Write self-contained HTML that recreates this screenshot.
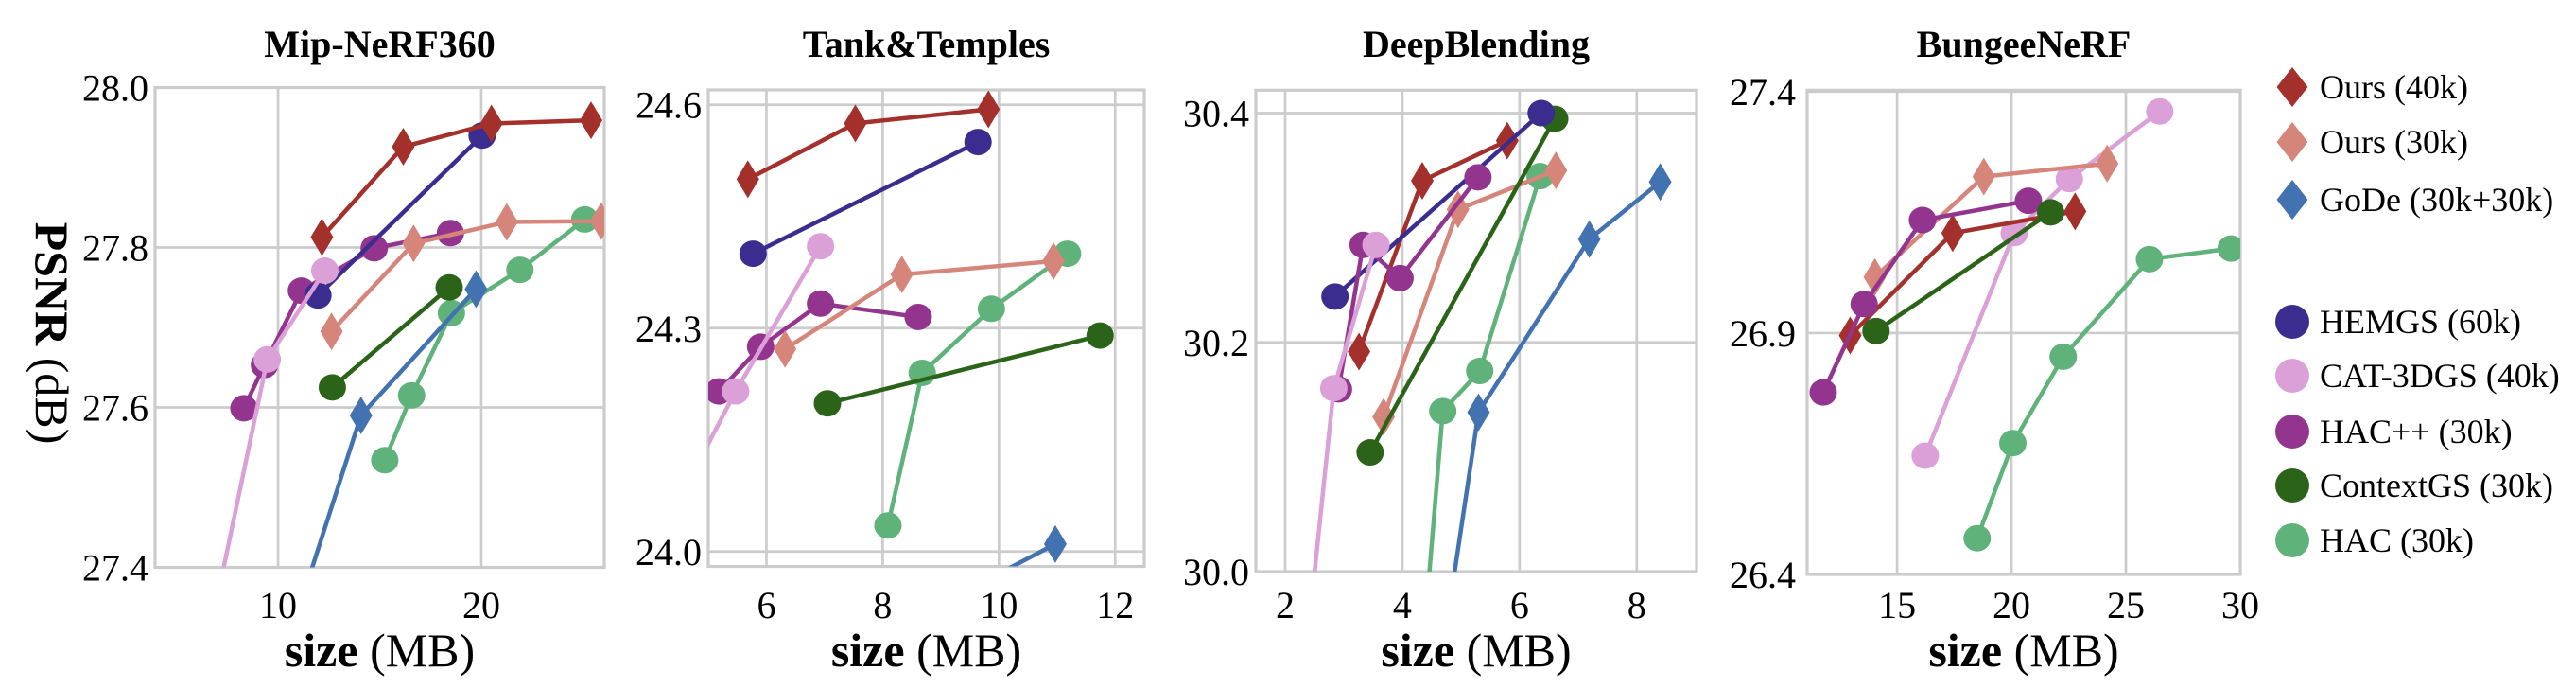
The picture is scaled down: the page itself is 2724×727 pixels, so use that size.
<!DOCTYPE html>
<html><head><meta charset="utf-8"><style>
html,body{margin:0;padding:0;background:#fff;}
svg, svg text{font-family:"Liberation Serif","Times New Roman","DejaVu Serif",serif;}
</style></head><body>
<svg id="chart" width="2724" height="722" viewBox="0 0 2724 722" xmlns="http://www.w3.org/2000/svg" font-family="Liberation Serif, DejaVu Serif, serif">
<text transform="translate(38,352) rotate(90)" text-anchor="middle" font-size="50" font-family="Liberation Serif, DejaVu Serif, serif"><tspan font-weight="bold">PSNR</tspan> (dB)</text>
<g id="panels"></g>
<g id="legend"></g>
</svg>
<script>
// ---- data: Mip-NeRF360 ----
const mipOurs40kX=[12.16,16.16,20.5,25.4], mipOurs40kY=[27.813,27.926,27.955,27.959];
const mipOurs30kX=[12.63,16.67,21.25,25.9], mipOurs30kY=[27.695,27.805,27.832,27.833];
const mipGodeX=[10.8,14.08,19.74], mipGodeY=[27.33,27.59,27.748];
const mipHemgsX=[11.96,20.04], mipHemgsY=[27.74,27.94];
const mipCatX=[6.5,9.47,12.3], mipCatY=[27.3,27.66,27.771];
const mipHacppX=[8.32,9.33,11.15,14.73,18.48], mipHacppY=[27.599,27.653,27.746,27.799,27.818];
const mipCtxX=[12.67,18.42], mipCtxY=[27.625,27.75];
const mipHacX=[15.25,16.57,18.53,21.9,25.09], mipHacY=[27.534,27.615,27.718,27.772,27.835];
// ---- Tank&Temples ----
const tntOurs40kX=[5.68,7.53,9.82], tntOurs40kY=[24.50,24.575,24.594];
const tntOurs30kX=[6.32,8.33,10.94], tntOurs30kY=[24.272,24.372,24.39];
const tntGodeX=[9.5,10.97], tntGodeY=[23.95,24.010];
const tntHemgsX=[5.77,9.64], tntHemgsY=[24.40,24.55];
const tntCatX=[4.7,5.47,6.93], tntCatY=[24.1,24.215,24.41];
const tntHacppX=[5.18,5.9,6.93,8.61], tntHacppY=[24.215,24.275,24.333,24.315];
const tntCtxX=[7.05,11.74], tntCtxY=[24.199,24.29];
const tntHacX=[8.09,8.68,9.87,11.18], tntHacY=[24.035,24.24,24.326,24.40];
// ---- DeepBlending ----
const dbOurs40kX=[3.26,4.34,5.79], dbOurs40kY=[30.192,30.341,30.376];
const dbOurs30kX=[3.68,4.95,6.62], dbOurs30kY=[30.135,30.316,30.350];
const dbGodeX=[4.6,5.3,7.19,8.4], dbGodeY=[29.9,30.139,30.29,30.34];
const dbHemgsX=[2.85,6.37], dbHemgsY=[30.24,30.40];
const dbCatX=[2.3,2.83,3.55], dbCatY=[29.9,30.16,30.285];
const dbHacppX=[2.91,3.33,3.96,5.29], dbHacppY=[30.159,30.285,30.256,30.344];
const dbCtxX=[3.45,6.6], dbCtxY=[30.104,30.395];
const dbHacX=[4.3,4.69,5.32,6.35], dbHacY=[29.9,30.14,30.175,30.345];
// ---- BungeeNeRF ----
const bnOurs40kX=[12.95,17.43,22.78], bnOurs40kY=[26.895,27.107,27.152];
const bnOurs30kX=[14.03,18.79,24.18], bnOurs30kY=[27.016,27.224,27.251];
const bnCatX=[16.23,20.12,22.53,26.48], bnCatY=[26.646,27.107,27.219,27.359];
const bnHacppX=[11.77,13.56,16.11,20.74], bnHacppY=[26.777,26.96,27.134,27.174];
const bnCtxX=[14.08,21.71], bnCtxY=[26.904,27.15];
const bnHacX=[18.5,20.06,22.26,26.03,29.6], bnHacY=[26.475,26.672,26.851,27.053,27.075];
// ---- ticks ----
const mipXTicks=[10,20], mipYTicks=[27.4,27.6,27.8,28.0], mipYLabels=["27.4","27.6","27.8","28.0"];
const tntXTicks=[6,8,10,12], tntYTicks=[24.0,24.3,24.6], tntYLabels=["24.0","24.3","24.6"];
const dbXTicks=[2,4,6,8], dbYTicks=[30.0,30.2,30.4], dbYLabels=["30.0","30.2","30.4"];
const bnXTicks=[15,20,25,30], bnYTicks=[26.4,26.9,27.4], bnYLabels=["26.4","26.9","27.4"];
const legendLabels=["Ours (40k)","Ours (30k)","GoDe (30k+30k)","HEMGS (60k)","CAT-3DGS (40k)","HAC++ (30k)","ContextGS (30k)","HAC (30k)"];

const FONT="Liberation Serif, DejaVu Serif, serif";
const C={o40:"#a3302b",o30:"#d6857a",gode:"#4272b0",hemgs:"#3b2d8f",cat:"#dca0d8",hacpp:"#93348e",ctx:"#2b6319",hac:"#5fb37a"};
const NS="http://www.w3.org/2000/svg";
function mk(tag,attrs,parent){const e=document.createElementNS(NS,tag);for(const k in attrs)e.setAttribute(k,attrs[k]);if(tag==="text")e.setAttribute("font-family",FONT);if(parent)parent.appendChild(e);return e;}
function diamond(cx,cy,hw,hh){return `M${cx},${cy-hh}L${cx+hw},${cy}L${cx},${cy+hh}L${cx-hw},${cy}Z`;}

const panels=[
 {id:"mip",title:"Mip-NeRF360",x0:164,x1:639,y0:92.5,y1:599.5,xl:[3.95,26.05],yl:[27.4,28.0],xt:mipXTicks,yt:mipYTicks,ytl:mipYLabels,lab:157,
  s:[["hac",mipHacX,mipHacY,"c"],["ctx",mipCtxX,mipCtxY,"c"],["hacpp",mipHacppX,mipHacppY,"c"],["hemgs",mipHemgsX,mipHemgsY,"c"],["cat",mipCatX,mipCatY,"c"],["gode",mipGodeX,mipGodeY,"d"],["o30",mipOurs30kX,mipOurs30kY,"d"],["o40",mipOurs40kX,mipOurs40kY,"d"]]},
 {id:"tnt",title:"Tank&Temples",x0:749,x1:1210,y0:95,y1:598.5,xl:[5.0,12.5],yl:[23.98,24.62],xt:tntXTicks,yt:tntYTicks,ytl:tntYLabels,lab:742,
  s:[["hac",tntHacX,tntHacY,"c"],["ctx",tntCtxX,tntCtxY,"c"],["hacpp",tntHacppX,tntHacppY,"c"],["hemgs",tntHemgsX,tntHemgsY,"c"],["cat",tntCatX,tntCatY,"c"],["gode",tntGodeX,tntGodeY,"d"],["o30",tntOurs30kX,tntOurs30kY,"d"],["o40",tntOurs40kX,tntOurs40kY,"d"]]},
 {id:"db",title:"DeepBlending",x0:1328,x1:1794,y0:95.3,y1:604,xl:[1.5,9.02],yl:[30.0,30.42],xt:dbXTicks,yt:dbYTicks,ytl:dbYLabels,lab:1321,
  s:[["hac",dbHacX,dbHacY,"c"],["gode",dbGodeX,dbGodeY,"d"],["o30",dbOurs30kX,dbOurs30kY,"d"],["ctx",dbCtxX,dbCtxY,"c"],["o40",dbOurs40kX,dbOurs40kY,"d"],["hemgs",dbHemgsX,dbHemgsY,"c"],["hacpp",dbHacppX,dbHacppY,"c"],["cat",dbCatX,dbCatY,"c"]]},
 {id:"bn",title:"BungeeNeRF",x0:1911,x1:2369,y0:95.3,y1:607,xl:[11.07,30],yl:[26.4,27.403],xt:bnXTicks,yt:bnYTicks,ytl:bnYLabels,lab:1899,
  s:[["hac",bnHacX,bnHacY,"c"],["cat",bnCatX,bnCatY,"c"],["o30",bnOurs30kX,bnOurs30kY,"d"],["o40",bnOurs40kX,bnOurs40kY,"d"],["hacpp",bnHacppX,bnHacppY,"c"],["ctx",bnCtxX,bnCtxY,"c"]]}
];

const root=document.getElementById("panels");
panels.forEach(p=>{
 const sx=v=>p.x0+(v-p.xl[0])/(p.xl[1]-p.xl[0])*(p.x1-p.x0);
 const sy=v=>p.y1-(v-p.yl[0])/(p.yl[1]-p.yl[0])*(p.y1-p.y0);
 const g=mk("g",{},root);
 
 
 const cp=mk("clipPath",{id:"clip-"+p.id},g);
 mk("rect",{x:p.x0,y:p.y0,width:p.x1-p.x0,height:p.y1-p.y0},cp);
 const t=mk("text",{x:(p.x0+p.x1)/2,y:60,"text-anchor":"middle","font-size":40,"font-weight":"bold"},g);
 t.textContent=p.title;
 
 
 p.xt.forEach(v=>{
  const l=mk("line",{x1:sx(v),x2:sx(v),y1:p.y0,y2:p.y1,stroke:"#cccccc","stroke-width":2.7},g);
  
  
  const tl=mk("text",{x:sx(v),y:653,"text-anchor":"middle","font-size":40},g);
  tl.textContent=String(v);
  
  
 });
 p.yt.forEach((v,i)=>{
  const l=mk("line",{x1:p.x0,x2:p.x1,y1:sy(v),y2:sy(v),stroke:"#cccccc","stroke-width":2.7},g);
  
  
  const tl=mk("text",{x:p.lab,y:sy(v)+14,"text-anchor":"end","font-size":40},g);
  tl.textContent=p.ytl[i];
  
  
 });
 const fr=mk("rect",{x:p.x0,y:p.y0,width:p.x1-p.x0,height:p.y1-p.y0,fill:"none",stroke:"#cccccc","stroke-width":3.2},g);
 
 
 const xl=mk("text",{x:(p.x0+p.x1)/2,y:704,"text-anchor":"middle","font-size":50},g);
 xl.innerHTML='<tspan font-weight="bold">size</tspan> (MB)';
 
 
 const dg=mk("g",{"clip-path":"url(#clip-"+p.id+")"},g);
 p.s.forEach(([key,X,Y,m])=>{
  const sg=mk("g",{},dg);
  
  
  const pts=X.map((x,i)=>sx(x)+","+sy(Y[i])).join(" ");
  mk("polyline",{points:pts,fill:"none",stroke:C[key],"stroke-width":4.5,"stroke-linejoin":"round"},sg);
  X.forEach((x,i)=>{
   let e;
   if(m==="c") e=mk("ellipse",{cx:sx(x),cy:sy(Y[i]),rx:14.5,ry:14,fill:C[key]},sg);
   else e=mk("path",{d:diamond(sx(x),sy(Y[i]),12,20),fill:C[key]},sg);
   
   
  });
 });
});

const leg=document.getElementById("legend");
const legKeys=["o40","o30","gode","hemgs","cat","hacpp","ctx","hac"];
const legRowsY=[92,150,211,340,397,456,513,571];
legKeys.forEach((k,i)=>{
 const y=legRowsY[i];
 const eg=mk("g",{},leg);
 
 
 if(i<3) mk("path",{d:diamond(2424,y,16.5,21),fill:C[k]},eg);
 else mk("circle",{cx:2424,cy:y,r:18,fill:C[k]},eg);
 const t=mk("text",{x:2453,y:y+12,"font-size":36},eg);
 t.textContent=legendLabels[i];
});
</script>
</body></html>
